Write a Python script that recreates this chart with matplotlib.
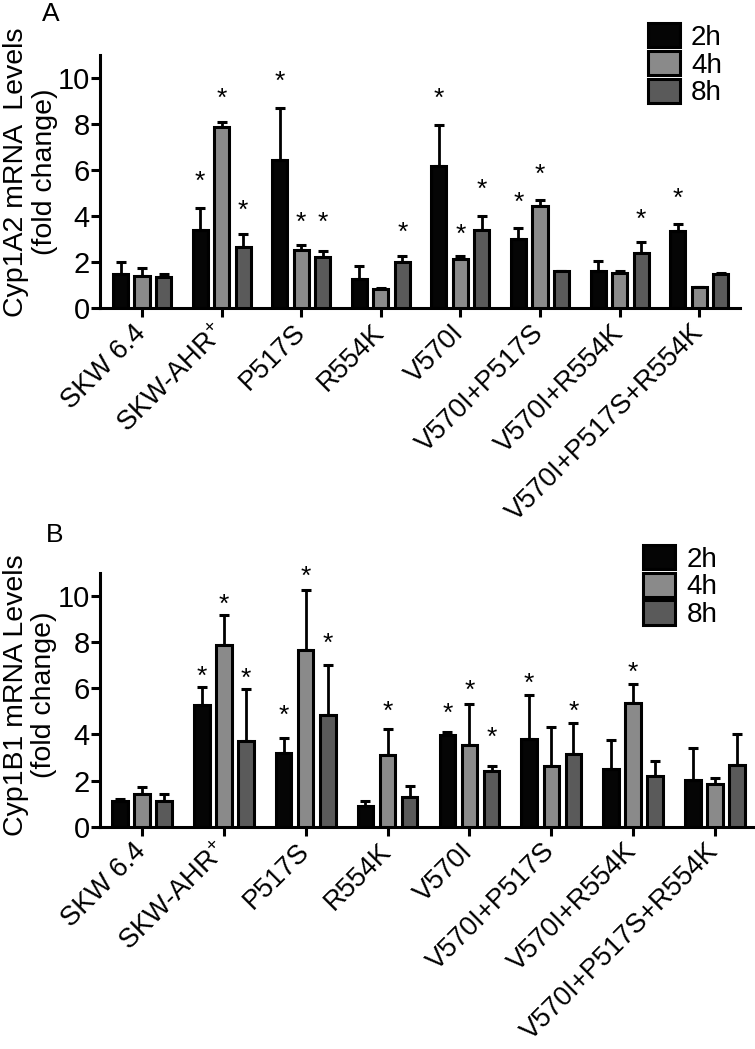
import numpy as np
import matplotlib
matplotlib.use("Agg")
import matplotlib.pyplot as plt
from matplotlib.patches import Patch

plt.rcParams['font.family'] = ['Liberation Sans', 'DejaVu Sans']
plt.rcParams['mathtext.fontset'] = 'custom'
plt.rcParams['mathtext.rm'] = 'Liberation Sans'
plt.rcParams['mathtext.it'] = 'Liberation Sans:italic'

# ---------------- data ----------------
categories = ["SKW 6.4", r"SKW-AHR$^{+}$", "P517S", "R554K", "V570I",
              "V570I+P517S", "V570I+R554K", "V570I+P517S+R554K"]
series = ["2h", "4h", "8h"]

# Panel A: Cyp1A2
a_2h = [1.47, 3.38, 6.44, 1.26, 6.18, 2.99, 1.59, 3.36]
a_4h = [1.39, 7.85, 2.51, 0.82, 2.11, 4.42, 1.52, 0.92]
a_8h = [1.36, 2.66, 2.21, 1.99, 3.41, 1.60, 2.41, 1.50]
a_err_2h = [0.52, 0.98, 2.26, 0.56, 1.79, 0.49, 0.44, 0.31]
a_err_4h = [0.33, 0.22, 0.25, 0.05, 0.16, 0.26, 0.08, 0.00]
a_err_8h = [0.13, 0.54, 0.27, 0.29, 0.57, 0.00, 0.46, 0.04]
nan = np.nan
a_star_2h = [nan, 5.86, 10.19, nan, 9.47, 4.92, nan, 5.11]
a_star_4h = [nan, 9.47, 4.07, nan, 3.56, 6.15, nan, nan]
a_star_8h = [nan, 4.60, 4.07, 3.64, 5.51, nan, 4.21, nan]

# Panel B: Cyp1B1
b_2h = [1.13, 5.29, 3.18, 0.90, 3.96, 3.82, 2.50, 2.04]
b_4h = [1.43, 7.89, 7.64, 3.09, 3.53, 2.62, 5.36, 1.85]
b_8h = [1.11, 3.73, 4.83, 1.30, 2.41, 3.16, 2.18, 2.67]
b_err_2h = [0.05, 0.76, 0.66, 0.20, 0.14, 1.87, 1.26, 1.38]
b_err_4h = [0.30, 1.27, 2.61, 1.16, 1.80, 1.69, 0.81, 0.27]
b_err_8h = [0.31, 2.22, 2.19, 0.46, 0.22, 1.35, 0.68, 1.33]
b_star_2h = [nan, 6.85, 5.17, nan, 5.26, 6.56, nan, nan]
b_star_4h = [nan, 9.99, 11.21, 5.33, 6.24, nan, 7.02, nan]
b_star_8h = [nan, 6.75, 8.27, nan, 4.22, 5.35, nan, nan]

yticks = [0, 2, 4, 6, 8, 10]

# ---------------- style ----------------
colors = ["#050505", "#8a8a8a", "#5a5a5a"]
LW = 2.2
FS = 21
W = 755
H = 1049

fig = plt.figure(figsize=(W / 100, H / 100), dpi=100)


def panel(rect, means, errs, stars, ylabel, xlim, leg_anchor, letter, letter_pos):
    ax = fig.add_axes(rect)
    x = np.arange(len(categories))
    offs = [-0.27, 0.0, 0.27]
    for m, e, s, c, o, lab in zip(means, errs, stars, colors, offs, series):
        ax.bar(x + o, m, width=0.19, color=c, edgecolor="black",
               linewidth=LW, zorder=3, label=lab)
        ax.errorbar(x + o, m, yerr=[np.zeros(len(m)), e], fmt="none",
                    ecolor="black", elinewidth=2.0, capsize=3.4,
                    capthick=2.2, zorder=2)
        for xi, sy in zip(x + o, s):
            if not np.isnan(sy):
                ax.annotate("*", xy=(xi, sy), xytext=(0, -11),
                            textcoords="offset points", ha="center",
                            va="baseline", fontsize=19, annotation_clip=False)
    ax.set_xlim(*xlim)
    ax.set_ylim(0, 11)
    ax.set_yticks(yticks)
    ax.set_yticklabels([str(t) for t in yticks], fontsize=FS)
    ax.set_xticks(x)
    ax.set_xticklabels(categories, fontsize=19.5, rotation=45, ha="right",
                       va="center", rotation_mode="anchor")
    for sp in ["top", "right"]:
        ax.spines[sp].set_visible(False)
    for sp in ["left", "bottom"]:
        ax.spines[sp].set_linewidth(LW)
    ax.tick_params(axis="both", width=LW, length=6.5, direction="out")
    ax.tick_params(axis="y", pad=1)
    ax.tick_params(axis="x", pad=8.5)
    ax.set_ylabel(ylabel, fontsize=20.5, linespacing=1.12)
    ax.yaxis.set_label_coords(*leg_anchor[1])
    handles = [Patch(facecolor=c, edgecolor="black", linewidth=LW) for c in colors]
    ax.legend(handles, series, loc="upper left", bbox_to_anchor=leg_anchor[0],
              frameon=False, fontsize=20, borderpad=0, borderaxespad=0,
              handlelength=1.15, handleheight=0.97, handletextpad=0.4,
              labelspacing=0.0)
    fig.text(letter_pos[0] / W, 1 - letter_pos[1] / H, letter, fontsize=19,
             ha="left", va="baseline")
    return ax


axA = panel([100 / W, 1 - 308 / H, 640 / W, 253 / H],
            [a_2h, a_4h, a_8h], [a_err_2h, a_err_4h, a_err_8h],
            [a_star_2h, a_star_4h, a_star_8h],
            "Cyp1A2 mRNA  Levels\n(fold change)", (-0.528, 7.513),
            ((0.856, 1.126), (-0.066, 0.537)), "A", (42, 21))

axB = panel([100 / W, 1 - 826.7 / H, 653 / W, 253.7 / H],
            [b_2h, b_4h, b_8h], [b_err_2h, b_err_4h, b_err_8h],
            [b_star_2h, b_star_4h, b_star_8h],
            "Cyp1B1 mRNA Levels\n(fold change)", (-0.513, 7.464),
            ((0.832, 1.110), (-0.066, 0.52)), "B", (46, 542))

fig.savefig("out.png", dpi=100)
